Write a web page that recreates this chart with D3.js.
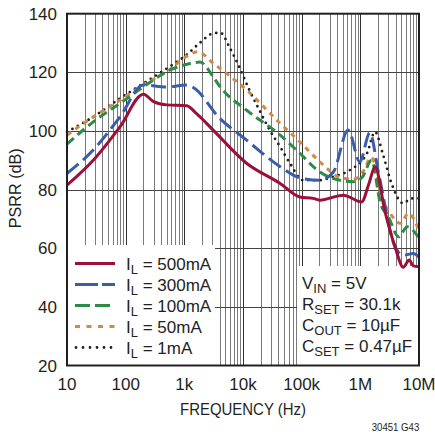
<!DOCTYPE html>
<html>
<head>
<meta charset="utf-8">
<script src="https://cdn.jsdelivr.net/npm/d3@7"></script>
<style>
  body { margin: 0; background: #fff; }
  text { font-family: "Liberation Sans", Arial, sans-serif; fill: #231f20; }
</style>
</head>
<body>
<div id="chart"></div>
<script>
// PSRR vs frequency, one array pair per load current
var freq500 = [10, 28, 80, 200, 300, 500, 1100, 1600, 3100, 11500, 43000, 93000, 158000, 204000, 513000, 1050000, 1400000, 1780000, 2600000, 3900000, 5400000, 6800000, 8000000, 10000000];
var psrr500 = [81.5, 90, 101.4, 112.5, 110, 108.9, 108.6, 106, 100.3, 89, 82.1, 77.5, 77, 76.4, 78.1, 75.8, 82, 87.8, 73, 60.5, 53.5, 56, 54, 53.7];

var freq300 = [10, 28, 80, 200, 500, 1100, 1500, 3800, 11500, 43000, 93000, 204000, 347000, 620000, 980000, 1450000, 2050000, 3900000, 5400000, 8000000, 10000000];
var psrr300 = [85.5, 93.5, 104.8, 115.7, 115, 115.7, 114.5, 104.8, 96.9, 87.8, 84, 83.2, 86, 100.3, 89.5, 99.4, 85.5, 60.5, 57.6, 58.2, 57];

var freq100 = [10, 28, 80, 200, 570, 1250, 1850, 3100, 4100, 11500, 43000, 93000, 204000, 447000, 770000, 1100000, 1550000, 2200000, 3000000, 4500000, 6300000, 10000000];
var psrr100 = [95.5, 103.1, 109.4, 115, 120.8, 123, 123.5, 118.5, 115, 107.1, 98.6, 92.4, 86, 83.2, 82.7, 84.5, 90, 75.3, 70.7, 63.9, 67.3, 63.5];

var freq50 = [10, 28, 80, 200, 570, 1100, 1700, 3100, 11500, 43000, 93000, 204000, 447000, 770000, 1100000, 1550000, 2400000, 3200000, 4800000, 6600000, 10000000];
var psrr50 = [98.6, 104.8, 110.5, 115.7, 121, 125.5, 127, 123.1, 114, 102.6, 96.3, 89.5, 84.2, 83.5, 86, 91, 76.4, 72, 68.5, 71.9, 66];

var freq1 = [10, 28, 80, 200, 570, 1100, 1850, 3100, 4100, 6000, 8600, 12800, 19000, 28500, 43000, 63000, 106000, 204000, 347000, 670000, 1300000, 1780000, 2400000, 3400000, 5400000, 7400000, 10000000];
var psrr1 = [99.7, 104.8, 111.1, 116.2, 122, 126, 130.1, 133.3, 133.5, 128.2, 121.9, 114, 107.1, 100.3, 94.6, 89, 83.2, 83.2, 84.4, 86.7, 92.4, 99.7, 92.4, 82.1, 75.3, 77, 77];

var legendLabels = ["500mA", "300mA", "100mA", "50mA", "1mA"];
var xTicks = [10, 100, 1e3, 1e4, 1e5, 1e6, 1e7];
var xTickLabels = ["10", "100", "1k", "10k", "100k", "1M", "10M"];
var yTicks = [20, 40, 60, 80, 100, 120, 140];

var series = [
  { name: legendLabels[0], f: freq500, v: psrr500, color: "#9d1037", dash: null, width: 3 },
  { name: legendLabels[1], f: freq300, v: psrr300, color: "#3a5ca9", dash: "15,6", width: 3 },
  { name: legendLabels[2], f: freq100, v: psrr100, color: "#2e8a47", dash: "9,5", width: 3 },
  { name: legendLabels[3], f: freq50, v: psrr50, color: "#d08a43", dash: "5,5", width: 3 },
  { name: legendLabels[4], f: freq1, v: psrr1, color: "#231f20", dash: "0,6.2", width: 2.8, dot: true }
];

var W = 435, H = 434;
var plotL = 67, plotR = 419, plotT = 13.7, plotB = 365.5;

var svg = d3.select("#chart").append("svg")
  .attr("width", W).attr("height", H);

var x = d3.scaleLog().domain([10, 1e7]).range([plotL, plotR]);
var y = d3.scaleLinear().domain([20, 140]).range([plotB, plotT]);

// grid
var minor = [];
for (var d = 10; d < 1e7; d *= 10) {
  for (var m = 1; m < 10; m++) {
    var f = d * m;
    if (f > 10) minor.push(f);
  }
}
var grid = svg.append("g").classed("grid", true);
grid.selectAll("line.v")
  .data(minor)
  .enter().append("line")
  .attr("x1", function (f) { return Math.round(x(f)) + 0.5; })
  .attr("x2", function (f) { return Math.round(x(f)) + 0.5; })
  .attr("y1", plotT).attr("y2", plotB)
  .attr("stroke", function (f) { return xTicks.indexOf(f) >= 0 ? "#333" : "#7a7a7a"; })
  .attr("stroke-width", 1);

grid.selectAll("line.h")
  .data(yTicks.filter(function (t) { return t > 20 && t < 140; }))
  .enter().append("line")
  .attr("x1", plotL).attr("x2", plotR)
  .attr("y1", function (t) { return Math.round(y(t)) + 0.5; })
  .attr("y2", function (t) { return Math.round(y(t)) + 0.5; })
  .attr("stroke", "#444")
  .attr("stroke-width", 1);

// boxes blanking the grid behind legend and notes
svg.append("rect")
  .attr("x", plotL).attr("y", 245)
  .attr("width", 215 - plotL).attr("height", plotB - 245)
  .attr("fill", "#fff");
svg.append("rect")
  .attr("x", 297).attr("y", 266)
  .attr("width", plotR - 297).attr("height", plotB - 266)
  .attr("fill", "#fff");

// curves
var line = d3.line()
  .x(function (p) { return x(p[0]); })
  .y(function (p) { return y(p[1]); })
  .curve(d3.curveMonotoneX);

var curves = svg.append("g").classed("curves", true);
series.slice().reverse().forEach(function (s) {
  var pts = s.f.map(function (f, i) { return [f, s.v[i]]; });
  curves.append("path")
    .attr("d", line(pts))
    .attr("fill", "none")
    .attr("stroke", s.color)
    .attr("stroke-width", s.width)
    .attr("stroke-linecap", s.dot ? "round" : "butt")
    .attr("stroke-linejoin", "round")
    .attr("stroke-dasharray", s.dash);
});

// frame
svg.append("rect")
  .attr("x", plotL).attr("y", plotT)
  .attr("width", plotR - plotL).attr("height", plotB - plotT)
  .attr("fill", "none")
  .attr("stroke", "#231f20")
  .attr("stroke-width", 2);

// axes labels
svg.selectAll("text.xt")
  .data(xTicks)
  .enter().append("text")
  .attr("x", function (f) { return x(f); })
  .attr("y", 390)
  .attr("text-anchor", "middle")
  .style("font-size", "17px")
  .text(function (f, i) { return xTickLabels[i]; });

svg.selectAll("text.yt")
  .data(yTicks)
  .enter().append("text")
  .attr("x", 57)
  .attr("y", function (t) { return y(t) + 6; })
  .attr("text-anchor", "end")
  .style("font-size", "17px")
  .text(function (t) { return t; });

svg.append("text")
  .attr("x", 243).attr("y", 415)
  .attr("text-anchor", "middle")
  .attr("textLength", 126)
  .attr("lengthAdjust", "spacingAndGlyphs")
  .style("font-size", "17px")
  .text("FREQUENCY (Hz)");

svg.append("text")
  .attr("transform", "translate(21,188.3) rotate(-90)")
  .attr("text-anchor", "middle")
  .attr("textLength", 80)
  .attr("lengthAdjust", "spacingAndGlyphs")
  .style("font-size", "17px")
  .text("PSRR (dB)");

svg.append("text")
  .attr("x", 371.7).attr("y", 431)
  .attr("textLength", 47.6)
  .attr("lengthAdjust", "spacingAndGlyphs")
  .style("font-size", "10.5px")
  .text("30451 G43");

// legend
var legend = svg.append("g").classed("legend", true);
series.forEach(function (s, i) {
  var ly = 263.5 + i * 21;
  legend.append("line")
    .attr("x1", s.dot ? 76 : 75).attr("x2", 115)
    .attr("y1", ly).attr("y2", ly)
    .attr("stroke", s.color)
    .attr("stroke-width", s.width)
    .attr("stroke-linecap", s.dot ? "round" : "butt")
    .attr("stroke-dasharray", s.dot ? "0,7" : (i === 1 ? "23,4" : i === 2 ? "15,5" : i === 3 ? "5,6.5" : null));
  var t = legend.append("text")
    .attr("x", 126).attr("y", ly + 6)
    .style("font-size", "17px");
  t.append("tspan").text("I");
  t.append("tspan").attr("dy", 4).style("font-size", "13px").text("L");
  t.append("tspan").attr("dy", -4).text(" = " + s.name);
});

// conditions
var notes = [["V", "IN", " = 5V"], ["R", "SET", " = 30.1k"], ["C", "OUT", " = 10\u00b5F"], ["C", "SET", " = 0.47\u00b5F"]];
notes.forEach(function (n, i) {
  var t = svg.append("text")
    .attr("x", 302).attr("y", 289 + i * 21)
    .style("font-size", "17px");
  t.append("tspan").text(n[0]);
  t.append("tspan").attr("dy", 4).style("font-size", "13px").text(n[1]);
  t.append("tspan").attr("dy", -4).text(n[2]);
});
</script>
</body>
</html>
